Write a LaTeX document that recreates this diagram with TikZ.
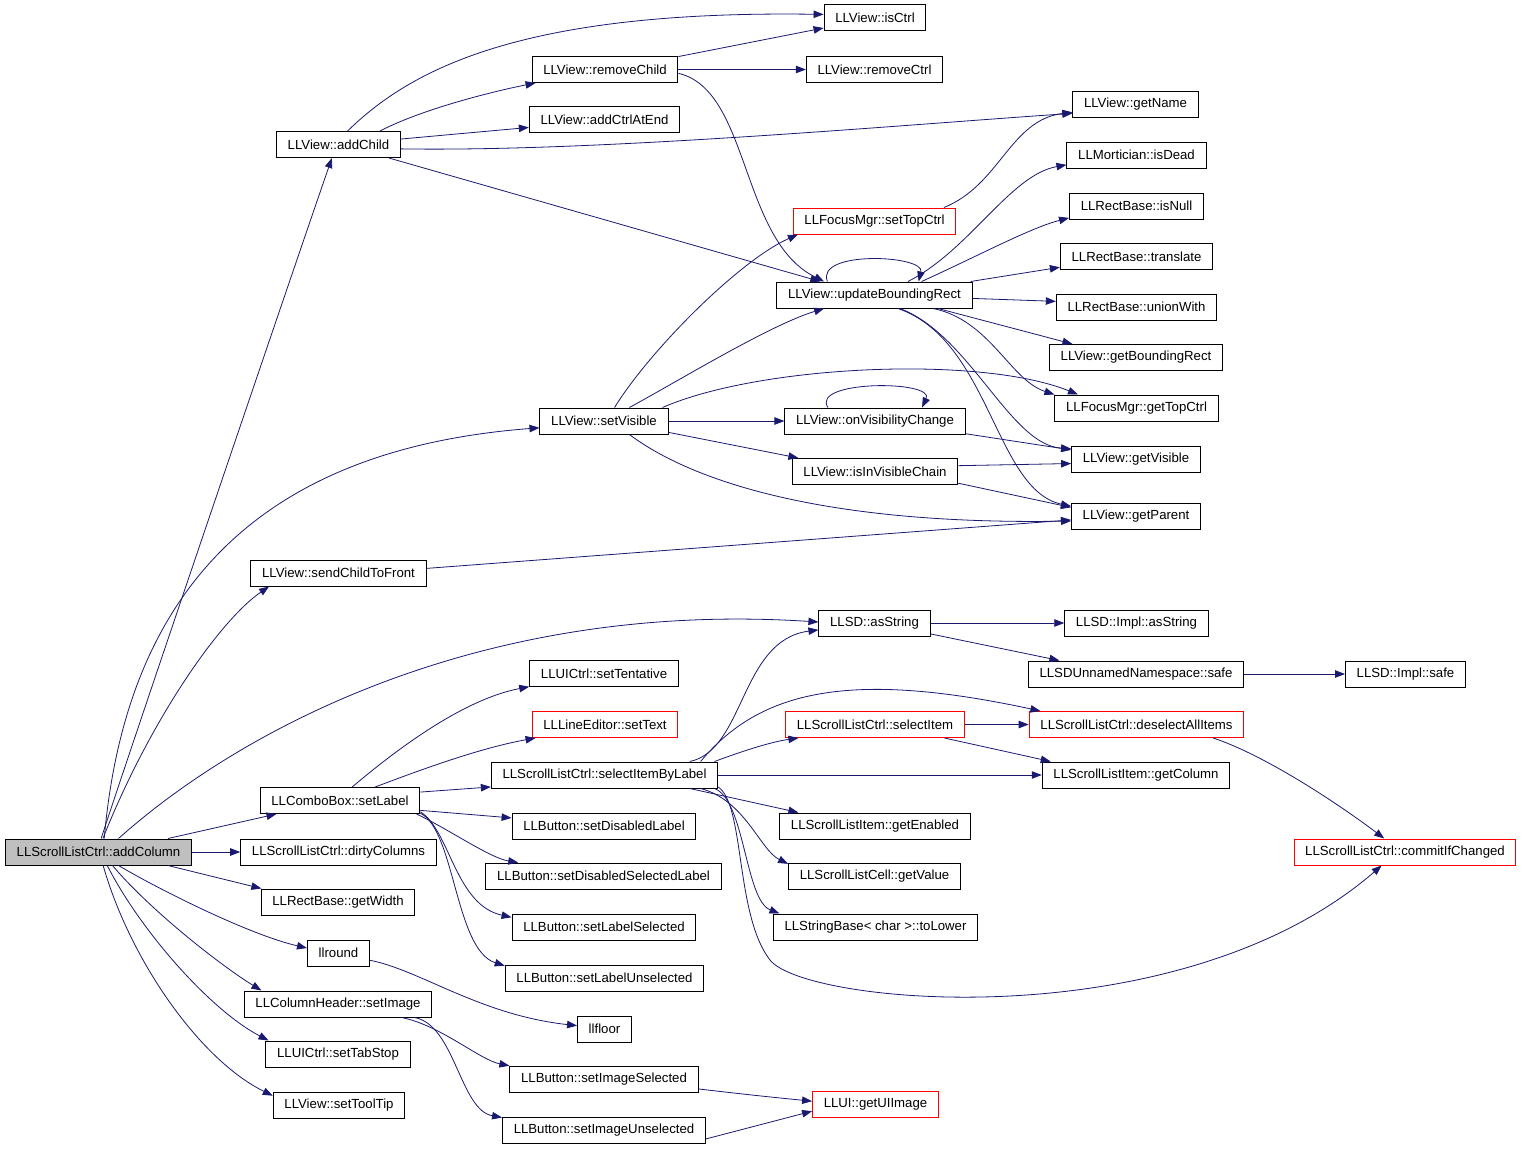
\documentclass[tikz,border=0pt]{standalone}
\usepackage{fontspec}
\setmainfont{Liberation Sans}
\usetikzlibrary{arrows.meta}
\definecolor{edgeblue}{RGB}{25,25,112}
\definecolor{rootgray}{RGB}{191,191,191}
\tikzset{
  func/.style={draw=black, line width=0.75pt, fill=white, inner xsep=8.4pt, inner ysep=0pt, minimum height=19.5pt, font=\fontsize{9.9pt}{11pt}\selectfont},
  redfunc/.style={func, draw=red},
  rootfunc/.style={func, fill=rootgray},
  call/.style={draw=edgeblue, line width=0.6pt, -{Triangle[length=7.5pt,width=5.6pt]}}
}
\begin{document}
\begin{tikzpicture}[x=0.75pt,y=-0.75pt]
\useasboundingbox (0,0) rectangle (1523,1149);
\node[rootfunc] (addColumn) at (98.5,852) {LLScrollListCtrl::addColumn};
\node[func] (addChild) at (338.5,144.5) {LLView::addChild};
\node[func] (isCtrl) at (875,18) {LLView::isCtrl};
\node[func] (removeChild) at (605,69.5) {LLView::removeChild};
\node[func] (removeCtrl) at (874.5,69.5) {LLView::removeCtrl};
\node[func] (addCtrlAtEnd) at (604.5,119.5) {LLView::addCtrlAtEnd};
\node[func] (getName) at (1135.5,104.5) {LLView::getName};
\node[func] (isDead) at (1136.5,155) {LLMortician::isDead};
\node[func] (isNull) at (1136.5,206) {LLRectBase::isNull};
\node[redfunc] (setTopCtrl) at (874.5,221) {LLFocusMgr::setTopCtrl};
\node[func] (translate) at (1136.5,256.5) {LLRectBase::translate};
\node[func] (updateRect) at (874.5,295) {LLView::updateBoundingRect};
\node[func] (unionWith) at (1136.5,307) {LLRectBase::unionWith};
\node[func] (getRect) at (1136,357.5) {LLView::getBoundingRect};
\node[func] (getTopCtrl) at (1136.5,408) {LLFocusMgr::getTopCtrl};
\node[func] (setVisible) at (604,421) {LLView::setVisible};
\node[func] (onVisChange) at (875,421) {LLView::onVisibilityChange};
\node[func] (getVisible) at (1136,459) {LLView::getVisible};
\node[func] (inVisChain) at (875,471.5) {LLView::isInVisibleChain};
\node[func] (getParent) at (1136,516.5) {LLView::getParent};
\node[func] (toFront) at (338.5,573) {LLView::sendChildToFront};
\node[func] (asString) at (874.5,623) {LLSD::asString};
\node[func] (implAsString) at (1136.5,623) {LLSD::Impl::asString};
\node[func] (setTentative) at (604,673.5) {LLUICtrl::setTentative};
\node[func] (nsSafe) at (1136,674) {LLSDUnnamedNamespace::safe};
\node[func] (implSafe) at (1405.5,674) {LLSD::Impl::safe};
\node[redfunc] (setText) at (605,724.5) {LLLineEditor::setText};
\node[redfunc] (selectItem) at (875,724.5) {LLScrollListCtrl::selectItem};
\node[redfunc] (deselectAll) at (1136.5,724.5) {LLScrollListCtrl::deselectAllItems};
\node[func] (selectByLabel) at (604.5,775) {LLScrollListCtrl::selectItemByLabel};
\node[func] (getColumn) at (1136,775) {LLScrollListItem::getColumn};
\node[func] (setLabel) at (340,800.5) {LLComboBox::setLabel};
\node[func] (setDisLabel) at (604,826) {LLButton::setDisabledLabel};
\node[func] (getEnabled) at (875,826) {LLScrollListItem::getEnabled};
\node[redfunc] (commitChanged) at (1405,852) {LLScrollListCtrl::commitIfChanged};
\node[func] (dirtyColumns) at (338.5,852) {LLScrollListCtrl::dirtyColumns};
\node[func] (setDisSelLabel) at (603.5,876) {LLButton::setDisabledSelectedLabel};
\node[func] (getValue) at (874.5,876) {LLScrollListCell::getValue};
\node[func] (getWidth) at (338,902) {LLRectBase::getWidth};
\node[func] (setLabelSel) at (604,927) {LLButton::setLabelSelected};
\node[func] (toLower) at (875.5,927) {LLStringBase< char >::toLower};
\node[func] (llround) at (338.5,953) {llround};
\node[func] (setLabelUnsel) at (604.5,978) {LLButton::setLabelUnselected};
\node[func] (setImage) at (338,1004) {LLColumnHeader::setImage};
\node[func] (llfloor) at (604.5,1029) {llfloor};
\node[func] (setTabStop) at (338,1054) {LLUICtrl::setTabStop};
\node[func] (setImageSel) at (604,1079) {LLButton::setImageSelected};
\node[redfunc] (getUIImage) at (875.5,1104.5) {LLUI::getUIImage};
\node[func] (setToolTip) at (339,1105) {LLView::setToolTip};
\node[func] (setImageUnsel) at (604,1130) {LLButton::setImageUnselected};

\draw[call] (addColumn.79) .. controls (140,720) and (300,250) .. (addChild.-116);
\draw[call] (addColumn.67) .. controls (125,600) and (250,450) .. (setVisible.186);
\draw[call] (addColumn.72) .. controls (150,720) and (220,620) .. (toFront.191);
\draw[call] (addColumn.34) .. controls (240,730) and (480,600) .. (asString.179);
\draw[call] (addColumn.11) -- (setLabel.192);
\draw[call] (addColumn.east) -- (dirtyColumns.west);
\draw[call] (addColumn.-11) -- (getWidth.170);
\draw[call] (addColumn.-34) .. controls (160,890) and (250,935) .. (llround.171);
\draw[call] (addColumn.-44) .. controls (150,910) and (220,965) .. (setImage.170);
\draw[call] (addColumn.-57) .. controls (140,930) and (210,1010) .. (setTabStop.169);
\draw[call] (addColumn.-71) .. controls (130,960) and (200,1060) .. (setToolTip.172);

\draw[call] (addChild.56) .. controls (410,70) and (520,10) .. (isCtrl.176);
\draw[call] (addChild.18) .. controls (420,110) and (490,92) .. (removeChild.191);
\draw[call] (addChild.5) -- (addCtrlAtEnd.186);
\draw[call] (addChild.-4) .. controls (600,152) and (900,125) .. (getName.188);
\draw[call] (addChild.-15) -- (updateRect.166);

\draw[call] (removeChild.10) -- (isCtrl.191);
\draw[call] (removeChild.east) -- (removeCtrl.west);
\draw[call] (removeChild.-3) .. controls (750,90) and (740,240) .. (updateRect.165);
\draw[call] (setTopCtrl.11) .. controls (1000,185) and (1010,120) .. (getName.187);

\draw[call] (updateRect.164) .. controls (815,250) and (925,255) .. (updateRect.17);
\draw[call] (updateRect.22) .. controls (970,250) and (1010,175) .. (isDead.188);
\draw[call] (updateRect.16) .. controls (980,255) and (1030,228) .. (isNull.190);
\draw[call] (updateRect.8) -- (translate.188);
\draw[call] (updateRect.-2) -- (unionWith.176);
\draw[call] (updateRect.-12) -- (getRect.168);
\draw[call] (updateRect.-13) .. controls (990,320) and (1010,380) .. (getTopCtrl.north west);
\draw[call] (updateRect.-28) .. controls (970,335) and (1010,445) .. (getVisible.171);
\draw[call] (updateRect.-30) .. controls (990,340) and (995,490) .. (getParent.171);

\draw[call] (setVisible.52) .. controls (650,350) and (740,260) .. (setTopCtrl.190);
\draw[call] (setVisible.28) .. controls (680,380) and (770,325) .. (updateRect.195);
\draw[call] (setVisible.13) .. controls (760,365) and (980,355) .. (getTopCtrl.167);
\draw[call] (setVisible.east) -- (onVisChange.west);
\draw[call] (setVisible.-10) -- (inVisChain.170);
\draw[call] (setVisible.-28) .. controls (690,480) and (820,525) .. (getParent.184);

\draw[call] (onVisChange.164) .. controls (810,380) and (935,380) .. (onVisChange.16);
\draw[call] (onVisChange.-8) -- (getVisible.172);
\draw[call] (inVisChain.4) -- (getVisible.184);
\draw[call] (inVisChain.-8) -- (getParent.172);
\draw[call] (toFront.3) -- (getParent.183);

\draw[call] (asString.east) -- (implAsString.west);
\draw[call] (asString.-11) -- (nsSafe.170);
\draw[call] (nsSafe.east) -- (implSafe.west);

\draw[call] (setLabel.48) .. controls (390,755) and (460,700) .. (setTentative.190);
\draw[call] (setLabel.21) .. controls (420,770) and (480,748) .. (setText.191);
\draw[call] (setLabel.6) -- (selectByLabel.186);
\draw[call] (setLabel.-7) -- (setDisLabel.175);
\draw[call] (setLabel.-10) .. controls (450,830) and (490,858) .. (setDisSelLabel.171);
\draw[call] (setLabel.-8) .. controls (450,830) and (455,905) .. (setLabelSel.174);
\draw[call] (setLabel.-9) .. controls (455,830) and (455,950) .. (setLabelUnsel.173);

\draw[call] (selectByLabel.9) .. controls (745,750) and (740,640) .. (asString.187);
\draw[call] (selectByLabel.8) .. controls (760,690) and (850,670) .. (deselectAll.172);
\draw[call] (selectByLabel.7) .. controls (740,752) and (770,742) .. (selectItem.190);
\draw[call] (selectByLabel.east) -- (getColumn.west);
\draw[call] (selectByLabel.-9) -- (getEnabled.170);
\draw[call] (selectByLabel.-8) .. controls (745,800) and (760,850) .. (getValue.172);
\draw[call] (selectByLabel.-7) .. controls (745,800) and (745,900) .. (toLower.172);
\draw[call] (selectByLabel.-6) .. controls (745,805) and (735,915) .. (770,960) .. controls (805,1005) and (1180,1040) .. (commitChanged.210);

\draw[call] (selectItem.east) -- (deselectAll.west);
\draw[call] (selectItem.-11) -- (getColumn.171);
\draw[call] (deselectAll.-10) .. controls (1265,755) and (1340,805) .. (commitChanged.147);

\draw[call] (llround.-13) .. controls (420,970) and (480,1015) .. (llfloor.173);
\draw[call] (setImage.-12) .. controls (440,1025) and (480,1060) .. (setImageSel.172);
\draw[call] (setImage.-10) .. controls (455,1025) and (460,1110) .. (setImageUnsel.173);
\draw[call] (setImageSel.-6) .. controls (750,1095) and (780,1098) .. (getUIImage.177);
\draw[call] (setImageUnsel.-5) -- (getUIImage.186);
\end{tikzpicture}
\end{document}
